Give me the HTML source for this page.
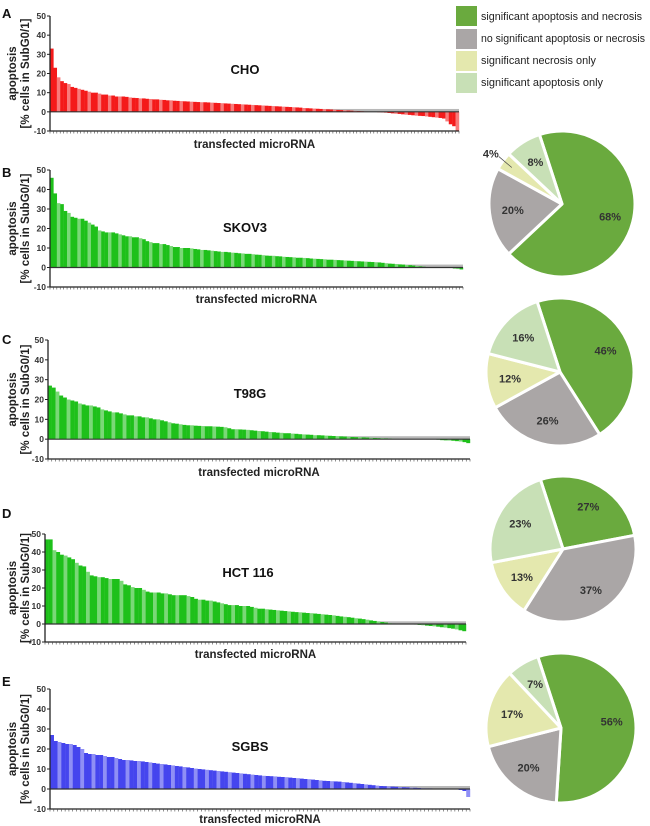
<!DOCTYPE html>
<html><head><meta charset="utf-8">
<style>
html,body{margin:0;padding:0;background:#fff;}
svg{display:block;font-family:"Liberation Sans",Arial,sans-serif;}
</style></head>
<body>
<svg id="fig" width="650" height="826" viewBox="0 0 650 826">
  <g id="legend">
    <rect x="456" y="6" width="21" height="20" fill="#6aaa3e"/>
    <text x="481" y="20" font-size="11" fill="#222" textLength="161" lengthAdjust="spacingAndGlyphs">significant apoptosis and necrosis</text>
    <rect x="456" y="29" width="21" height="20" fill="#aaa6a6"/>
    <text x="481" y="42" font-size="11" fill="#222" textLength="164" lengthAdjust="spacingAndGlyphs">no significant apoptosis or necrosis</text>
    <rect x="456" y="51" width="21" height="20" fill="#e4e8ae"/>
    <text x="481" y="64" font-size="11" fill="#222" textLength="115" lengthAdjust="spacingAndGlyphs">significant necrosis only</text>
    <rect x="456" y="73" width="21" height="20" fill="#c8e0b6"/>
    <text x="481" y="86" font-size="11" fill="#222" textLength="122" lengthAdjust="spacingAndGlyphs">significant apoptosis only</text>
  </g>
</svg>
<script>
const choValues=[33,23,18,16,15,14.5,13,12.5,12,11.5,11,10.5,10,10,9.5,9,9,8.5,8.5,8,8,8,7.8,7.5,7.3,7.2,7,7,6.8,6.7,6.5,6.5,6.3,6.2,6,6,5.8,5.7,5.6,5.5,5.4,5.3,5.2,5.1,5,5,4.9,4.8,4.7,4.6,4.5,4.4,4.3,4.2,4.1,4,3.9,3.8,3.7,3.6,3.5,3.4,3.3,3.2,3.1,3,2.9,2.8,2.7,2.6,2.5,2.4,2.3,2.2,2,1.9,1.8,1.7,1.6,1.5,1.4,1.3,1.2,1.1,1,0.9,0.8,0.7,0.6,0.5,0.4,0.3,0.2,0.1,0,-0.1,-0.2,-0.3,-0.5,-0.6,-0.8,-1,-1.1,-1.3,-1.5,-1.6,-1.8,-2,-2.1,-2.2,-2.4,-2.6,-2.8,-3,-3.2,-3.5,-5,-6.5,-7.5,-10];
const skov3Values=[46,38,33,32.5,29,28,26,25.5,25,25,24,23,22,21,19,18.5,18,18,18,17.5,17,16.5,16,16,15.5,15.5,15,14.5,13.5,13,12.5,12.5,12,12,11.5,11,10.5,10.5,10,10,10,9.8,9.5,9.3,9,9,8.8,8.6,8.4,8.2,8,8,7.8,7.6,7.5,7.3,7.2,7,7,6.8,6.6,6.5,6.3,6.1,6,6,5.8,5.7,5.5,5.4,5.3,5.2,5,5,4.9,4.8,4.6,4.5,4.4,4.3,4.2,4,4,3.9,3.8,3.7,3.6,3.5,3.4,3.3,3.2,3.1,3,2.9,2.8,2.7,2.6,2.4,2.2,2,1.9,1.8,1.6,1.5,1.3,1.2,1,0.8,0.6,0.4,0.2,0.1,0,0,0,0,0,0,-0.5,-0.8,-1];
const t98gValues=[27,26,24,22,21,20,19.5,19,18,17.5,17,17,16.5,16,15,14.5,14,13.5,13.5,13,12.5,12,12,11.5,11.5,11,11,10.5,10,10,9.5,9,8.5,8,7.8,7.5,7.2,7,7,6.8,6.7,6.6,6.5,6.5,6.4,6.3,6.2,6,5.5,5,5,4.9,4.8,4.7,4.5,4.3,4.1,4,3.8,3.6,3.5,3.3,3.2,3,3,2.8,2.7,2.5,2.4,2.3,2.2,2,2,1.9,1.8,1.7,1.6,1.5,1.4,1.3,1.2,1.1,1,1,0.9,0.8,0.7,0.6,0.5,0.5,0.4,0.3,0.2,0.1,0,0,0,0,0,0,0,0,0,0,-0.3,-0.5,-0.6,-0.7,-0.8,-1,-1.2,-1.5,-2];
const hct116Values=[47,47,41,40,38.5,38,37,36,34,32.5,32,29,27,26.5,26,26,25.5,25,25,25,24,22,21.5,20.5,20,20,19,18,17.5,17.5,17.5,17,17,16.5,16,16,16,16,15.5,15,14,13.5,13.5,13,13,12.5,12,11.5,11,10.5,10.5,10.5,10,10,10,9.5,9,8.5,8.5,8.2,8,7.8,7.6,7.4,7.2,7,6.8,6.6,6.5,6.3,6.1,6,5.8,5.6,5.4,5.2,5,4.8,4.5,4.2,4,3.8,3.5,3.2,3,2.7,2.4,2,1.7,1.4,1.1,0.8,0.5,0.3,0.1,0,0,0,0,-0.3,-0.5,-0.7,-0.9,-1.1,-1.3,-1.5,-1.8,-2,-2.3,-2.6,-3,-3.5,-4];
const sgbsValues=[27,24,23.5,23,22.5,22.5,22,21,20,18,17.5,17.5,17,17,16.5,16,16,15.5,15,14.5,14.5,14.3,14,14,13.8,13.5,13.3,13,12.7,12.5,12.3,12,11.8,11.5,11.3,11,10.8,10.5,10.2,10,9.8,9.6,9.4,9.2,9,8.8,8.6,8.4,8.2,8,7.8,7.6,7.4,7.2,7,6.8,6.6,6.5,6.4,6.3,6.1,6,5.9,5.7,5.5,5.4,5.2,5,4.9,4.7,4.5,4.3,4.1,4,3.9,3.8,3.7,3.5,3.3,3.1,2.9,2.7,2.5,2.3,2.1,1.9,1.7,1.5,1.4,1.3,1.2,1.1,1,0.9,0.8,0.7,0.6,0.5,0.4,0.3,0.3,0.2,0.2,0.1,0.1,0,0,-0.2,-0.5,-1,-4];
const yTicks=[50,40,30,20,10,0,-10];
const pieCategories=["significant apoptosis and necrosis","no significant apoptosis or necrosis","significant necrosis only","significant apoptosis only"];
const pieB=[68,20,4,8];
const pieC=[46,26,12,16];
const pieD=[27,37,13,23];
const pieE=[56,20,17,7];

const NS="http://www.w3.org/2000/svg";
const svg=document.getElementById('fig');
function mk(tag,attrs,parent){const e=document.createElementNS(NS,tag);for(const k in attrs)e.setAttribute(k,attrs[k]);(parent||svg).appendChild(e);return e;}

const panels=[
 {id:'a',letter:'A',title:'CHO',vals:choValues,x0:50,x1:459,y50:16,ym10:131,ly:10,tx:245,ty:74,xl:148,c1:'#f41a1a',c2:'#f87a7a'},
 {id:'b',letter:'B',title:'SKOV3',vals:skov3Values,x0:50,x1:463,y50:170,ym10:287,ly:169,tx:245,ty:232,xl:303,c1:'#1ec01a',c2:'#7ad877'},
 {id:'c',letter:'C',title:'T98G',vals:t98gValues,x0:48,x1:470,y50:340,ym10:459,ly:336,tx:250,ty:398,xl:476,c1:'#1ec01a',c2:'#7ad877'},
 {id:'d',letter:'D',title:'HCT 116',vals:hct116Values,x0:45,x1:466,y50:534,ym10:642,ly:510,tx:248,ty:577,xl:658,c1:'#1ec01a',c2:'#7ad877'},
 {id:'e',letter:'E',title:'SGBS',vals:sgbsValues,x0:50,x1:470,y50:689,ym10:809,ly:678,tx:250,ty:751,xl:823,c1:'#4545ee',c2:'#8f8ff5'}
];

panels.forEach(p=>{
  const g=mk('g',{});
  
  
  const ys=v=>p.y50+(50-v)*(p.ym10-p.y50)/60;
  const n=p.vals.length, bw=(p.x1-p.x0)/n;
  const xs=i=>p.x0+i*bw;
  const lt=mk('text',{x:2,y:p.ly+8,'font-size':13,'font-weight':'bold',fill:'#111'},g);lt.textContent=p.letter;
  
  
  const band=mk('rect',{x:p.x0,y:ys(1.5),width:p.x1-p.x0,height:ys(0)-ys(1.5),fill:'#b8b8b8'},g);
  
  
  p.vals.forEach((v,i)=>{
    const y=Math.min(ys(v),ys(0)), h=Math.abs(ys(v)-ys(0));
    const r=mk('rect',{x:xs(i),y:y,width:bw+0.2,height:Math.max(h,0.01),fill:(i%3===2)?p.c2:p.c1},g);
    
    
  });
  mk('line',{x1:p.x0,x2:p.x1,y1:ys(0),y2:ys(0),stroke:'#333','stroke-width':1.2},g);
  mk('line',{x1:p.x0,x2:p.x0,y1:p.y50,y2:p.ym10,stroke:'#222','stroke-width':1.3},g);
  mk('line',{x1:p.x0,x2:p.x1,y1:p.ym10,y2:p.ym10,stroke:'#222','stroke-width':1.3},g);
  for(let i=0;i<=n;i++){mk('line',{x1:xs(i),x2:xs(i),y1:p.ym10,y2:p.ym10+2.5,stroke:'#444','stroke-width':0.6},g);}
  yTicks.forEach(t=>{
    mk('line',{x1:p.x0-3,x2:p.x0,y1:ys(t),y2:ys(t),stroke:'#222','stroke-width':1},g);
    const tt=mk('text',{x:p.x0-4,y:ys(t)+3,'font-size':8.5,'font-weight':'bold','text-anchor':'end',fill:'#333'},g);tt.textContent=t;
    
    
  });
  const ti=mk('text',{x:p.tx,y:p.ty,'font-size':13,'font-weight':'bold','text-anchor':'middle',fill:'#111'},g);ti.textContent=p.title;
  
  
  const xl=mk('text',{x:(p.x0+p.x1)/2,y:p.xl,'font-size':11.5,'font-weight':'bold','text-anchor':'middle',fill:'#222'},g);xl.textContent='transfected microRNA';
  
  
  const cy=(p.y50+p.ym10)/2;
  const yl=mk('text',{'font-size':11.5,'font-weight':'bold','text-anchor':'middle',fill:'#222',transform:'translate(16,'+cy+') rotate(-90)'},g);
  
  
  const t1=mk('tspan',{x:0,y:0},yl);t1.textContent='apoptosis';
  const t2=mk('tspan',{x:0,y:13},yl);t2.textContent='[% cells in SubG0/1]';
});

const pieColors=['#6aaa3e','#aaa6a6','#e4e8ae','#c8e0b6'];
const pies=[
 {id:'b',vals:pieB,cx:562,cy:204,r:73},
 {id:'c',vals:pieC,cx:560,cy:372,r:74},
 {id:'d',vals:pieD,cx:563,cy:549,r:73},
 {id:'e',vals:pieE,cx:561,cy:728,r:75}
];
pies.forEach(p=>{
  const g=mk('g',{});
  
  
  const tot=p.vals.reduce((a,b)=>a+b,0);
  let a=-18;
  p.vals.forEach((v,i)=>{
    const a0=a, a1=a+v/tot*360; a=a1;
    const rad=d=>(d-90)*Math.PI/180;
    const x0=p.cx+p.r*Math.cos(rad(a0)), y0=p.cy+p.r*Math.sin(rad(a0));
    const x1=p.cx+p.r*Math.cos(rad(a1)), y1=p.cy+p.r*Math.sin(rad(a1));
    const large=(a1-a0)>180?1:0;
    const path=mk('path',{d:`M${p.cx},${p.cy} L${x0},${y0} A${p.r},${p.r} 0 ${large} 1 ${x1},${y1} Z`,fill:pieColors[i],stroke:'#fff','stroke-width':3,'stroke-linejoin':'round'},g);
    
    
    const mid=rad((a0+a1)/2);
    let lr=p.r*0.68, lx=p.cx+lr*Math.cos(mid), ly=p.cy+lr*Math.sin(mid);
    if(v/tot<0.06){
      const ex=p.cx+p.r*0.85*Math.cos(mid), ey=p.cy+p.r*0.85*Math.sin(mid);
      lx=p.cx+(p.r+10)*Math.cos(mid)-4; ly=p.cy+(p.r+6)*Math.sin(mid)-4;
      mk('line',{x1:ex,y1:ey,x2:lx+8,y2:ly+3,stroke:'#444','stroke-width':0.7},g);
    }
    const t=mk('text',{x:lx,y:ly+4,'font-size':11,'font-weight':'bold','text-anchor':'middle',fill:'#333'},g);
    t.textContent=v+'%';
    
    
  });
});
</script>
</body></html>
